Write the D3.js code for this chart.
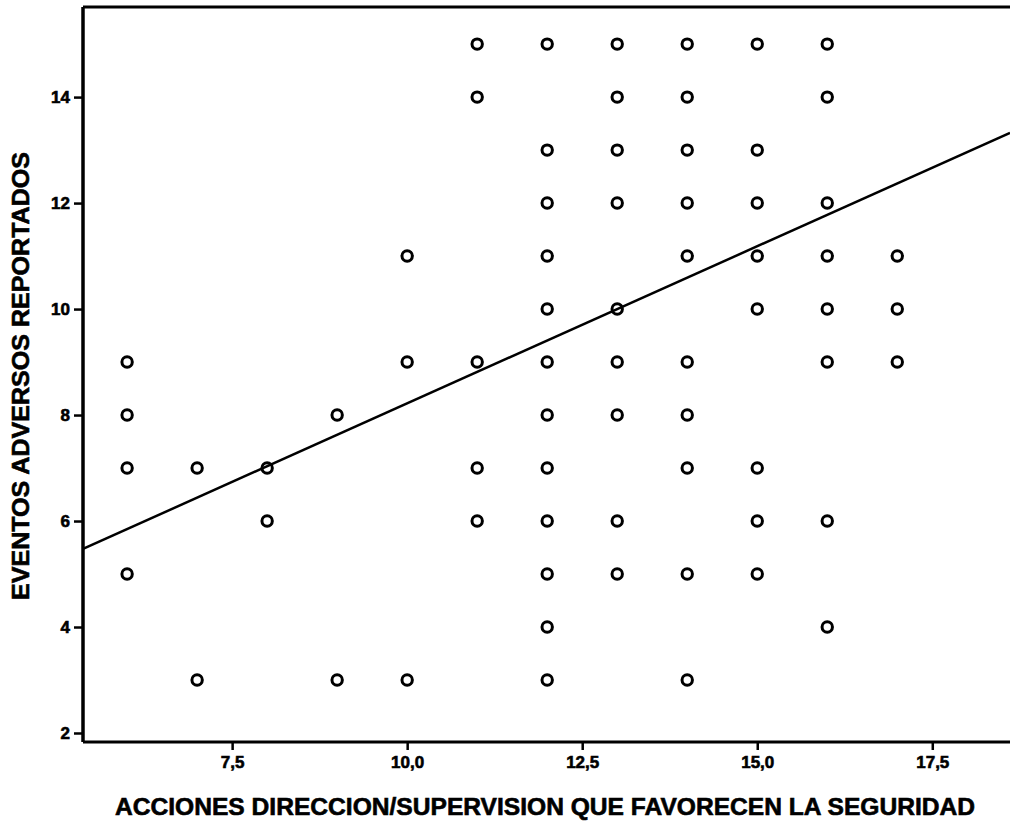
<!DOCTYPE html>
<html>
<head>
<meta charset="utf-8">
<script src="https://cdn.jsdelivr.net/npm/d3@7"></script>
<style>
  html, body { margin: 0; padding: 0; background: #fff; }
  svg { display: block; }
  text { font-family: "Liberation Sans", Arial, sans-serif; font-weight: bold; fill: #000; }
</style>
</head>
<body>
<svg id="chart" width="1010" height="825"></svg>
<script>
// Scores on "acciones de dirección/supervisión" (x) and the reported adverse events observed at each score (y)
const accionesScores = [6, 7, 8, 9, 10, 11, 12, 13, 14, 15, 16, 17];
const eventosPorScore = [
  [9, 8, 7, 5],
  [7, 3],
  [7, 6],
  [8, 3],
  [11, 9, 3],
  [15, 14, 9, 7, 6],
  [15, 13, 12, 11, 10, 9, 8, 7, 6, 5, 4, 3],
  [15, 14, 13, 12, 10, 9, 8, 6, 5],
  [15, 14, 13, 12, 11, 9, 8, 7, 5, 3],
  [15, 13, 12, 11, 10, 7, 6, 5],
  [15, 14, 12, 11, 10, 9, 6, 4],
  [11, 10, 9]
];

// Least-squares fit line: eventos = intercept + slope * acciones
const fitIntercept = 2.29;
const fitSlope = 0.593;

// Axis ticks
const xTicks = [7.5, 10.0, 12.5, 15.0, 17.5];
const yTicks = [2, 4, 6, 8, 10, 12, 14];

const xTitle = "ACCIONES DIRECCION/SUPERVISION QUE FAVORECEN LA SEGURIDAD";
const yTitle = "EVENTOS ADVERSOS REPORTADOS";

const points = accionesScores.flatMap((x, i) => eventosPorScore[i].map(y => ({ x, y })));

const svg = d3.select("#chart");
const plot = { left: 83, top: 7, right: 1010, bottom: 742 };

const x = d3.scaleLinear().domain([5.37, 18.61]).range([plot.left, plot.right]);
const y = d3.scaleLinear().domain([1.83, 15.7]).range([plot.bottom, plot.top]);

svg.append("defs").append("clipPath").attr("id", "plotClip")
  .append("rect")
  .attr("x", plot.left).attr("y", plot.top)
  .attr("width", plot.right - plot.left).attr("height", plot.bottom - plot.top);

// Frame: top border line
svg.append("line")
  .attr("x1", plot.left).attr("x2", plot.right)
  .attr("y1", plot.top).attr("y2", plot.top)
  .attr("stroke", "#000").attr("stroke-width", 3);

// Y axis
const yAxis = svg.append("g")
  .attr("transform", `translate(${plot.left},0)`)
  .call(d3.axisLeft(y).tickValues(yTicks).tickSize(9).tickPadding(4).tickFormat(d3.format("d")));
yAxis.select(".domain").attr("d", `M0,${plot.top}V${plot.bottom}`).attr("stroke-width", 3.5);
yAxis.selectAll(".tick line").attr("stroke-width", 2.5);
yAxis.selectAll(".tick text")
  .style("font-size", "17px")
  .attr("stroke", "#000").attr("stroke-width", 0.6);

// X axis
const xAxis = svg.append("g")
  .attr("transform", `translate(0,${plot.bottom})`)
  .call(d3.axisBottom(x).tickValues(xTicks).tickSize(8).tickPadding(6)
    .tickFormat(d => d3.format(".1f")(d).replace(".", ",")));
xAxis.select(".domain").attr("d", `M${plot.left},0H${plot.right}`).attr("stroke-width", 3);
xAxis.selectAll(".tick line").attr("stroke-width", 2.5);
xAxis.selectAll(".tick text")
  .style("font-size", "17px")
  .attr("stroke", "#000").attr("stroke-width", 0.6);

// Data points
svg.append("g")
  .selectAll("circle")
  .data(points)
  .join("circle")
  .attr("cx", d => x(d.x))
  .attr("cy", d => y(d.y))
  .attr("r", 5.2)
  .attr("fill", "none")
  .attr("stroke", "#000")
  .attr("stroke-width", 3);

// Regression line
const xDom = x.domain();
svg.append("line")
  .attr("clip-path", "url(#plotClip)")
  .attr("x1", x(xDom[0])).attr("y1", y(fitIntercept + fitSlope * xDom[0]))
  .attr("x2", x(xDom[1])).attr("y2", y(fitIntercept + fitSlope * xDom[1]))
  .attr("stroke", "#000").attr("stroke-width", 2.5);

// Axis titles
svg.append("text")
  .attr("x", 545).attr("y", 815)
  .attr("text-anchor", "middle")
  .attr("textLength", 860).attr("lengthAdjust", "spacingAndGlyphs")
  .attr("stroke", "#000").attr("stroke-width", 0.6)
  .style("font-size", "24px")
  .text(xTitle);

svg.append("text")
  .attr("transform", `translate(29,376) rotate(-90)`)
  .attr("text-anchor", "middle")
  .attr("textLength", 448).attr("lengthAdjust", "spacingAndGlyphs")
  .attr("stroke", "#000").attr("stroke-width", 0.6)
  .style("font-size", "24px")
  .text(yTitle);
</script>
</body>
</html>
